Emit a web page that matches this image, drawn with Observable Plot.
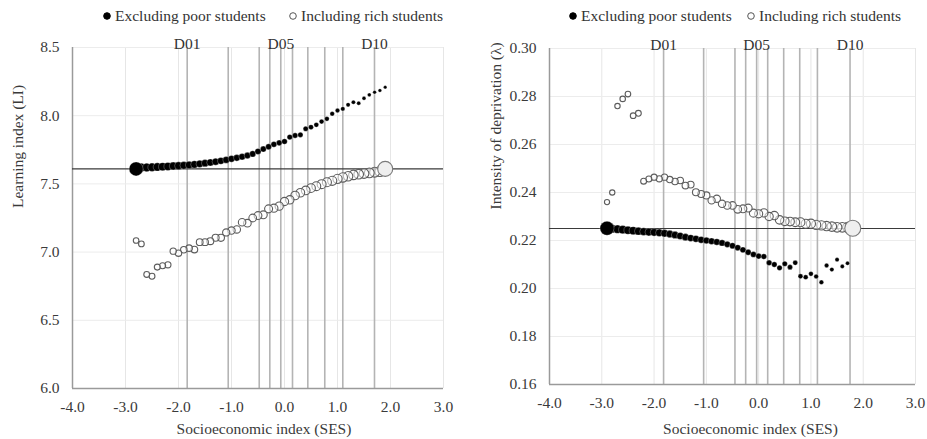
<!DOCTYPE html>
<html><head><meta charset="utf-8">
<script src="https://cdn.jsdelivr.net/npm/d3@7"></script>
<script src="https://cdn.jsdelivr.net/npm/@observablehq/plot@0.6"></script>
<style>
body{margin:0;background:#fff;font-family:"Liberation Serif","Times New Roman",serif;}
#wrap{position:relative;width:927px;height:439px;overflow:hidden;background:#fff;}
.panel{position:absolute;top:28px;}
.lg{position:absolute;top:6px;font-size:15.5px;color:#333;white-space:nowrap;display:flex;align-items:center;line-height:20px;}
.lg svg{margin-right:2px;}
</style></head><body><div id="wrap"></div>
<script>
// ---------- data ----------
const legendLabels = ["Excluding poor students", "Including rich students"];
const xTicks = [-4, -3, -2, -1, 0, 1, 2, 3];
const decileNames = ["D01","D02","D03","D04","D05","D06","D07","D08","D09","D10"];
const decileShown = ["D01","D05","D10"];

// Left panel: Learning index
const sesLeft = [-2.8,-2.7,-2.6,-2.5,-2.4,-2.3,-2.2,-2.1,-2.0,-1.9,-1.8,-1.7,-1.6,-1.5,-1.4,-1.3,-1.2,-1.1,-1.0,-0.9,-0.8,-0.7,-0.6,-0.5,
                 -0.4,-0.3,-0.2,-0.1,0.0,0.1,0.2,0.3,0.4,0.5,0.6,0.7,0.8,0.9,1.0,1.1,1.2,1.3,1.4,1.5,1.6,1.7,1.8,1.9];
const liExcludingPoor = [7.61,7.62,7.621,7.622,7.624,7.626,7.628,7.631,7.633,7.636,7.639,7.643,7.647,7.652,7.657,7.663,7.669,7.676,7.684,7.691,7.699,7.708,7.72,7.738,
                 7.755,7.772,7.79,7.801,7.811,7.843,7.855,7.86,7.904,7.916,7.933,7.957,7.977,8.014,8.038,8.05,8.08,8.099,8.092,8.128,8.153,8.172,8.185,8.209];
const liIncludingRich = [7.085,7.06,6.836,6.823,6.89,6.90,6.907,7.007,6.992,7.017,7.029,7.019,7.073,7.073,7.08,7.105,7.105,7.144,7.158,7.166,7.219,7.212,7.25,7.268,
                 7.273,7.317,7.322,7.337,7.371,7.383,7.415,7.435,7.452,7.469,7.483,7.498,7.512,7.523,7.537,7.547,7.556,7.566,7.571,7.576,7.581,7.586,7.591,7.61];
const liOverall = 7.61;
const decilesLeft = [-1.836,-1.062,-0.477,-0.277,-0.07,0.151,0.44,0.76,1.1,1.698];
const yTicksLeft = [6.0, 6.5, 7.0, 7.5, 8.0, 8.5];

// Right panel: Intensity of deprivation
const sesRight = [-2.9,-2.8,-2.7,-2.6,-2.5,-2.4,-2.3,-2.2,-2.1,-2.0,-1.9,-1.8,-1.7,-1.6,-1.5,-1.4,-1.3,-1.2,-1.1,-1.0,-0.9,-0.8,-0.7,-0.6,-0.5,
                  -0.4,-0.3,-0.2,-0.1,0.0,0.1,0.2,0.3,0.4,0.5,0.6,0.7,0.8,0.9,1.0,1.1,1.2,1.3,1.4,1.5,1.6,1.7,1.8];
const lambdaExcludingPoor = [0.2251,0.2249,0.2247,0.2245,0.2243,0.2241,0.2239,0.2237,0.2235,0.2234,0.2232,0.2230,0.2227,0.2223,0.2219,0.2214,0.2210,0.2207,0.2203,0.2200,0.2197,0.2194,0.2190,0.2184,0.2178,
                  0.2170,0.2161,0.2151,0.2142,0.2135,0.2133,0.2107,0.2100,0.2086,0.2103,0.2089,0.2107,0.2051,0.2047,0.2061,0.2050,0.2026,0.2096,0.2079,0.2120,0.2092,0.2105];
const lambdaIncludingRich = [0.236,0.240,0.276,0.279,0.281,0.272,0.273,0.2447,0.2456,0.2464,0.2457,0.2464,0.2454,0.2446,0.2450,0.2429,0.2433,0.2401,0.2394,0.2388,0.2367,0.2374,0.2353,0.2346,0.2346,
                  0.2330,0.2332,0.2335,0.2314,0.2311,0.2315,0.2300,0.2304,0.2286,0.2280,0.2279,0.2276,0.2276,0.2270,0.2270,0.2265,0.2263,0.2260,0.2258,0.2255,0.2255,0.2255,0.2251];
const lambdaOverall = 0.225;
const decilesRight = [-1.818,-1.052,-0.453,-0.248,-0.038,0.173,0.479,0.786,1.124,1.748];
const yTicksRight = [0.16, 0.18, 0.20, 0.22, 0.24, 0.26, 0.28, 0.30];

// ---------- drawing ----------
const FONT = '"Liberation Serif","Times New Roman",serif';
const TXT = "#3a3a3a";

function panel(cfg) {
  const excl = cfg.yExcl.map((v, i) => ({x: cfg.ses[i], y: v, i}));
  const incl = cfg.yIncl.map((v, i) => ({x: cfg.ses[i], y: v, i}));
  const nE = excl.length, nI = incl.length;
  const exclSmall = excl.slice(1), exclBig = excl.slice(0, 1);
  const inclSmall = incl.slice(0, nI - 1), inclBig = incl.slice(nI - 1);
  const deciles = cfg.deciles.map((x, k) => ({x, name: decileNames[k]}));
  return Plot.plot({
    width: cfg.width, height: 411,
    marginLeft: cfg.ml, marginRight: cfg.mr, marginTop: cfg.mt, marginBottom: cfg.mb,
    style: {fontFamily: FONT, fontSize: "15.5px", color: TXT, background: "#fff", overflow: "visible"},
    x: {domain: [-4, 3]},
    y: {domain: cfg.yDomain},
    r: {type: "linear", domain: [0, 10], range: [0, 10]},
    marks: [
      Plot.gridX(xTicks.slice(1), {stroke: "#e6e6e6", strokeOpacity: 1, strokeWidth: 1}),
      Plot.gridY(cfg.yTicks.slice(1), {stroke: "#ececec", strokeOpacity: 1, strokeWidth: 1}),
      Plot.ruleX(deciles, {x: "x", stroke: "#b4b4b4", strokeWidth: 1.6}),
      Plot.ruleX([-4], {stroke: "#9a9a9a", strokeWidth: 1.5}),
      Plot.ruleY([cfg.yDomain[0]], {stroke: "#9a9a9a", strokeWidth: 1.5}),
      Plot.ruleY([cfg.overall], {stroke: "#3a3a3a", strokeWidth: 1.1}),
      Plot.axisX({ticks: xTicks, tickFormat: d => d.toFixed(1), tickSize: 0, tickPadding: 12, fontSize: 15.5, label: null}),
      Plot.axisY({ticks: cfg.yTicks, tickFormat: d => d.toFixed(cfg.yDigits), tickSize: 0, tickPadding: 13, fontSize: 15.5, label: null}),
      Plot.text(deciles.filter(d => decileShown.includes(d.name)), {x: "x", text: "name", frameAnchor: "top", dy: -10, fill: "#333"}),
      Plot.text([cfg.xLabel], {frameAnchor: "bottom", dy: cfg.xlDy, dx: cfg.xlDx, fill: TXT}),
      Plot.text([cfg.yLabel], {frameAnchor: "left", dx: cfg.ylDx, dy: cfg.ylDy, rotate: -90, fill: TXT}),
      // including rich students (open circles, growing)
      Plot.dot(inclSmall, {x: "x", y: "y", r: d => cfg.rI0 + (cfg.rI1 - cfg.rI0) * d.i / (nI - 2),
        stroke: "#5c5c5c", strokeWidth: 1.1, fill: "white", fillOpacity: 0.55}),
      // excluding poor students (black dots, shrinking)
      Plot.dot(exclSmall, {x: "x", y: "y", r: d => cfg.rE0 - (cfg.rE0 - cfg.rE1) * (d.i - 1) / (nE - 2),
        fill: "#000", stroke: "#fff", strokeWidth: 0.5, strokeOpacity: 0.55}),
      Plot.dot(exclBig, {x: "x", y: "y", r: 7, fill: "#000", stroke: "#fff", strokeWidth: 0.5, strokeOpacity: 0.5}),
      Plot.dot(inclBig, {x: "x", y: "y", r: cfg.rBig, fill: "#efefef", stroke: "#7a7a7a", strokeWidth: 1.1})
    ]
  });
}

const wrap = document.getElementById("wrap");
function addPanel(left, svg) {
  const d = document.createElement("div");
  d.className = "panel"; d.style.left = left + "px";
  d.appendChild(svg); wrap.appendChild(d);
}
function addLegend(left, filled, label) {
  const d = document.createElement("div");
  d.className = "lg"; d.style.left = left + "px";
  d.innerHTML = `<svg width="12" height="12"><circle cx="6" cy="6" r="3.3" fill="${filled ? "#000" : "#fff"}" stroke="${filled ? "#000" : "#555"}" stroke-width="1"/></svg><span>${label}</span>`;
  wrap.appendChild(d);
}

addPanel(0, panel({
  width: 464, ml: 72, mr: 21, mt: 19, mb: 51,
  ses: sesLeft, yExcl: liExcludingPoor, yIncl: liIncludingRich, overall: liOverall,
  deciles: decilesLeft, yDomain: [6.0, 8.5], yTicks: yTicksLeft, yDigits: 1,
  xLabel: "Socioeconomic index (SES)", xlDy: 45, xlDx: 6,
  yLabel: "Learning index (LI)", ylDx: -54, ylDy: -10,
  rE0: 4.3, rE1: 1.7, rI0: 2.8, rI1: 5.0, rBig: 7.5
}));
addPanel(464, panel({
  width: 463, ml: 85, mr: 12, mt: 20, mb: 55,
  ses: sesRight, yExcl: lambdaExcludingPoor, yIncl: lambdaIncludingRich, overall: lambdaOverall,
  deciles: decilesRight, yDomain: [0.16, 0.30], yTicks: yTicksRight, yDigits: 2,
  xLabel: "Socioeconomic index (SES)", xlDy: 49, xlDx: 18,
  yLabel: "Intensity of deprivation (λ)", ylDx: -53, ylDy: -7,
  rE0: 4.2, rE1: 2.0, rI0: 2.6, rI1: 4.9, rBig: 8
}));
addLegend(101, true, legendLabels[0]);
addLegend(287, false, legendLabels[1]);
addLegend(567, true, legendLabels[0]);
addLegend(745, false, legendLabels[1]);
</script></body></html>
